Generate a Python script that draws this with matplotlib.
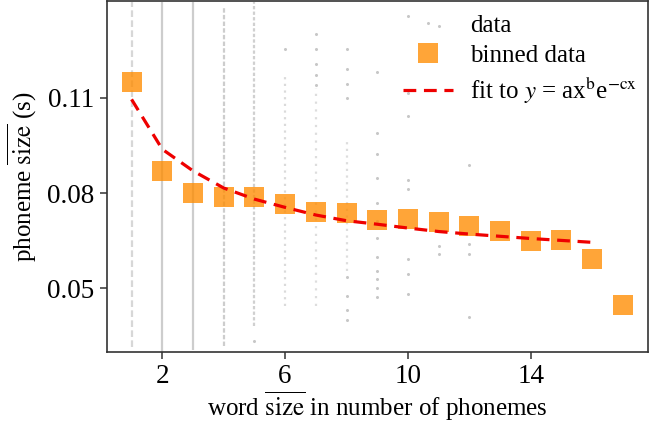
import matplotlib
matplotlib.use("Agg")
import matplotlib.pyplot as plt
import numpy as np

# word size (number of phonemes) for the binned means and the fit
word_size = [1, 2, 3, 4, 5, 6, 7, 8, 9, 10, 11, 12, 13, 14, 15, 16, 17]
binned_size = [0.1151, 0.0871, 0.0801, 0.0787, 0.0787, 0.0766, 0.0741, 0.0737,
               0.0715, 0.0718, 0.0709, 0.0697, 0.0680, 0.0649, 0.0652, 0.0591, 0.0447]

fit_x = [1, 2, 3, 4, 5, 6, 7, 8, 9, 10, 11, 12, 13, 14, 15, 16]
fit_y = [0.1095, 0.0938, 0.0870, 0.0816, 0.0781, 0.0755, 0.0731, 0.0713,
         0.0702, 0.0690, 0.0679, 0.0671, 0.0664, 0.0657, 0.0651, 0.0645]

# raw data: columns so dense they read as a continuous range
dense_x = [1, 2, 3, 4, 5, 6, 7, 8]
dense_lo = [0.0315, 0.0300, 0.0305, 0.0320, 0.0383, 0.0446, 0.0446, 0.0555]
dense_hi = [0.1400, 0.1400, 0.1400, 0.1383, 0.1400, 0.1179, 0.1130, 0.0964]

# raw data: isolated points
pts_x = [5,
         6,
         7, 7, 7, 7, 7,
         8, 8, 8, 8, 8, 8, 8, 8,
         9, 9, 9, 9, 9, 9, 9, 9, 9, 9, 9, 9,
         10, 10, 10, 10, 10, 10, 10, 10,
         11, 11, 11,
         12, 12, 12, 12]
pts_y = [0.0336,
         0.1252,
         0.1300, 0.1253, 0.1205, 0.1172, 0.1140,
         0.1254, 0.1189, 0.1142, 0.1100, 0.0537, 0.0477, 0.0433, 0.0399,
         0.1182, 0.0990, 0.0922, 0.0849, 0.0770, 0.0713, 0.0660, 0.0598, 0.0555, 0.0530, 0.0500, 0.0472,
         0.1357, 0.1116, 0.1043, 0.0840, 0.0812, 0.0593, 0.0545, 0.0481,
         0.1325, 0.0634, 0.0608,
         0.0889, 0.0640, 0.0608, 0.0409]

plt.rcParams['font.family'] = ['Liberation Serif', 'DejaVu Serif']
plt.rcParams['mathtext.fontset'] = 'stix'

fig = plt.figure(figsize=(6.5, 4.22), dpi=100)
ax = fig.add_axes([0.1646, 0.166, 0.8324, 0.832])

dense_styles = [(0, (3, 1.5)), 'solid', 'solid', (0, (2, 1)), (0, (1.5, 1)),
                (0, (1, 2)), (0, (1, 2.5)), (0, (1, 2))]
dense_alpha = [0.6, 0.75, 0.75, 0.75, 0.7, 0.55, 0.5, 0.5]
for i in range(len(dense_x)):
    ax.vlines(dense_x[i], dense_lo[i], dense_hi[i], colors='0.74',
              linewidth=1.6, linestyles=[dense_styles[i]], alpha=dense_alpha[i], zorder=1)

ax.plot(pts_x, pts_y, linestyle='', marker='o', markersize=2.2, color='0.78',
        markeredgewidth=0, label='data', zorder=1)
ax.plot(word_size, binned_size, linestyle='', marker='s', markersize=15,
        color='#ff8c00', alpha=0.78, markeredgewidth=0, label='binned data', zorder=2)
ax.plot(fit_x, fit_y, color='#ee0000', linewidth=2.3, dashes=(4, 2.4),
        label=r'fit to $y$ = ax$^{\mathrm{b}}$e$^{-\mathrm{cx}}$', zorder=3)

ax.set_xlim(0.2, 17.82)
ax.set_ylim(0.03, 0.1405)
ax.set_xticks([2, 6, 10, 14])
ax.set_yticks([0.05, 0.08, 0.11], labels=['0.05', '0.08', '0.11'])
ax.tick_params(direction='out', length=5, width=1.1, color='0.2', labelsize=19.5, pad=4)
for side in ['bottom', 'right', 'top', 'left']:
    ax.spines[side].set_linewidth(1.2)
    ax.spines[side].set_color('0.2')

ax.set_xlabel(r'word $\overline{\mathrm{size}}$ in number of phonemes', fontsize=18, labelpad=0)
ax.set_ylabel(r'phoneme $\overline{\mathrm{size}}$ (s)', fontsize=18, labelpad=6)

ax.legend(loc='upper right', bbox_to_anchor=(0.99, 0.975), frameon=False, fontsize=18,
          handlelength=2.0, labelspacing=0.3, borderaxespad=0.0, borderpad=0.2,
          handletextpad=0.7, markerscale=1)

fig.savefig('out.png', dpi=100)
